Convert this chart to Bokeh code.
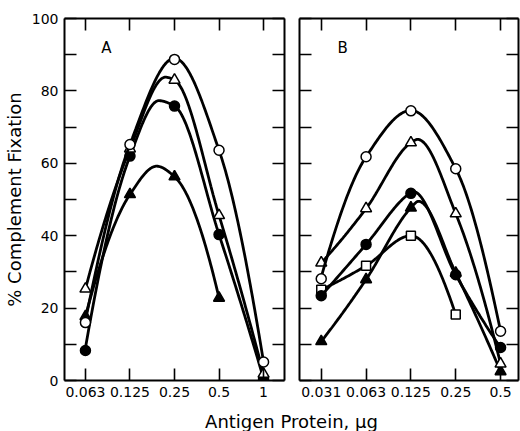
import numpy as np
from bokeh.plotting import figure
from bokeh.models import FixedTicker, LinearAxis, Label, Range1d
from bokeh.layouts import row, column
from bokeh.embed import file_html
from bokeh.resources import INLINE

# ---------------- data ----------------
# Panel A: antigen protein (µg) categories on a doubling scale
a_ticks = ["0.063", "0.125", "0.25", "0.5", "1"]
a_open_circle = [16.0, 65.2, 88.7, 63.6, 5.1]
a_open_triangle = [25.3, 64.0, 83.0, 45.6, 1.8]
a_filled_circle = [8.3, 62.0, 75.8, 40.3, 0.4]
a_filled_triangle = [17.7, 51.4, 56.3, 22.8]

# smooth curve knots for panel A (position index, % fixation)
a_oc_curve_x = [0, 1, 2, 3, 4]
a_oc_curve_y = [16.5, 65.2, 89.0, 63.6, 5.1]
a_ot_curve_x = [0, 1, 1.8, 2, 3, 4]
a_ot_curve_y = [25.3, 64.0, 83.8, 83.0, 45.6, 1.8]
a_fc_curve_x = [0, 1, 1.65, 2, 3, 4]
a_fc_curve_y = [9.0, 62.0, 77.3, 75.8, 40.3, 0.5]
a_ft_curve_x = [0, 1, 1.6, 2, 3]
a_ft_curve_y = [17.7, 51.4, 59.2, 56.3, 22.8]

# Panel B
b_ticks = ["0.031", "0.063", "0.125", "0.25", "0.5"]
b_open_circle = [28.1, 61.8, 74.5, 58.5, 13.6]
b_open_triangle = [32.5, 47.5, 65.7, 46.1, 4.6]
b_filled_circle = [23.4, 37.6, 51.7, 29.2, 9.1]
b_filled_triangle = [10.8, 27.9, 47.7, 29.7, 2.5]
b_open_square = [25.1, 31.7, 40.0, 18.2]

b_oc_curve_x = [0, 1, 2, 3, 4]
b_oc_curve_y = [28.6, 61.8, 74.6, 58.5, 13.6]
b_ot_curve_x = [0, 1, 2, 2.15, 3, 4]
b_ot_curve_y = [32.5, 47.5, 65.7, 66.6, 46.1, 4.6]
b_fc_curve_x = [0, 1, 2, 2.05, 3, 4]
b_fc_curve_y = [23.4, 37.6, 51.9, 52.2, 29.2, 9.1]
b_ft_curve_x = [0, 1, 2, 2.17, 3, 4]
b_ft_curve_y = [10.8, 27.9, 47.7, 49.5, 29.7, 2.5]
b_os_curve_x = [0, 1, 2, 3]
b_os_curve_y = [25.1, 31.7, 40.0, 18.2]

y_ticks = list(range(0, 101, 10))

FONT = "DejaVu Sans"


def pchip(xk, yk, n=160):
    """Monotone cubic rendering of a hand-drawn smooth curve through knots."""
    x = np.asarray(xk, float)
    y = np.asarray(yk, float)
    h = np.diff(x)
    d = np.diff(y) / h
    m = np.zeros_like(y)
    for k in range(1, len(x) - 1):
        if d[k - 1] * d[k] <= 0:
            m[k] = 0.0
        else:
            w1 = 2 * h[k] + h[k - 1]
            w2 = h[k] + 2 * h[k - 1]
            m[k] = (w1 + w2) / (w1 / d[k - 1] + w2 / d[k])

    def end(h0, h1, d0, d1):
        v = ((2 * h0 + h1) * d0 - h0 * d1) / (h0 + h1)
        if np.sign(v) != np.sign(d0):
            v = 0.0
        elif np.sign(d0) != np.sign(d1) and abs(v) > abs(3 * d0):
            v = 3 * d0
        return v

    if len(x) > 2:
        m[0] = end(h[0], h[1], d[0], d[1])
        m[-1] = end(h[-1], h[-2], d[-1], d[-2])
    else:
        m[0] = m[-1] = d[0]
    xs = np.linspace(x[0], x[-1], n)
    ys = np.empty_like(xs)
    for i, xv in enumerate(xs):
        k = min(np.searchsorted(x, xv, side="right") - 1, len(x) - 2)
        t = (xv - x[k]) / h[k]
        h00 = 2 * t**3 - 3 * t**2 + 1
        h10 = t**3 - 2 * t**2 + t
        h01 = -2 * t**3 + 3 * t**2
        h11 = t**3 - t**2
        ys[i] = h00 * y[k] + h10 * h[k] * m[k] + h01 * y[k + 1] + h11 * h[k] * m[k + 1]
    return xs, ys


def style_axis(ax, ticks, overrides=None, labels=True):
    ax.ticker = FixedTicker(ticks=ticks)
    ax.axis_line_width = 2
    ax.axis_line_color = "black"
    ax.major_tick_in = 12
    ax.major_tick_out = 0
    ax.minor_tick_in = 0
    ax.minor_tick_out = 0
    ax.major_tick_line_width = 1.6
    ax.major_tick_line_color = "black"
    if labels:
        ax.major_label_text_font = FONT
        ax.major_label_text_font_size = "14px"
        ax.major_label_text_color = "black"
        ax.major_label_standoff = 6
        if overrides:
            ax.major_label_overrides = overrides
    else:
        ax.major_label_text_font_size = "0px"
        ax.major_label_standoff = 0
        ax.major_label_overrides = {t: "" for t in ticks}


def make_panel(width, xr, tick_labels, left_labels, mbl, mbr, letter, letter_x):
    p = figure(width=width, height=402, x_range=Range1d(*xr), y_range=Range1d(0, 100),
               output_backend="svg", toolbar_location=None, title=None,
               min_border_left=mbl, min_border_right=mbr, min_border_top=18,
               min_border_bottom=22)
    p.grid.visible = False
    p.outline_line_color = None
    p.background_fill_color = "white"
    p.border_fill_color = "white"
    xt = list(range(len(tick_labels)))
    style_axis(p.xaxis[0], xt, {i: s for i, s in enumerate(tick_labels)})
    if left_labels:
        style_axis(p.yaxis[0], y_ticks, {t: (str(t) if t % 20 == 0 else "") for t in y_ticks})
        p.yaxis.axis_label = "% Complement Fixation"
        p.yaxis.axis_label_text_font = FONT
        p.yaxis.axis_label_text_font_size = "18px"
        p.yaxis.axis_label_text_font_style = "normal"
        p.yaxis.axis_label_text_color = "black"
        p.yaxis.axis_label_standoff = 4
    else:
        style_axis(p.yaxis[0], y_ticks, labels=False)
    top = LinearAxis()
    style_axis(top, xt, labels=False)
    p.add_layout(top, "above")
    right = LinearAxis()
    style_axis(right, y_ticks, labels=False)
    p.add_layout(right, "right")
    p.add_layout(Label(x=letter_x, y=91.8, text=letter, text_font=FONT,
                       text_font_size="15px", text_align="center",
                       text_baseline="middle", text_color="black"))
    return p


def draw(p, cx, cy, ys, marker, fill):
    lx, ly = pchip(cx, cy)
    p.line(lx, ly, line_color="black", line_width=2.8)
    size = {"circle": 10, "triangle": 11, "square": 9}[marker]
    p.scatter(list(range(len(ys))), ys, marker=marker, size=size,
              fill_color=fill, line_color="black", line_width=1.5)


pA = make_panel(291, (-0.47, 4.47), a_ticks, True, 63, 7, "A", 0.47)
draw(pA, a_ft_curve_x, a_ft_curve_y, a_filled_triangle, "triangle", "black")
draw(pA, a_fc_curve_x, a_fc_curve_y, a_filled_circle, "circle", "black")
draw(pA, a_ot_curve_x, a_ot_curve_y, a_open_triangle, "triangle", "white")
draw(pA, a_oc_curve_x, a_oc_curve_y, a_open_circle, "circle", "white")

pB = make_panel(229, (-0.485, 4.40), b_ticks, False, 8, 2, "B", 0.48)
draw(pB, b_os_curve_x, b_os_curve_y, b_open_square, "square", "white")
draw(pB, b_ft_curve_x, b_ft_curve_y, b_filled_triangle, "triangle", "black")
draw(pB, b_fc_curve_x, b_fc_curve_y, b_filled_circle, "circle", "black")
draw(pB, b_ot_curve_x, b_ot_curve_y, b_open_triangle, "triangle", "white")
draw(pB, b_oc_curve_x, b_oc_curve_y, b_open_circle, "circle", "white")

pX = figure(width=520, height=29, x_range=Range1d(0, 520), y_range=Range1d(0, 29),
            output_backend="svg", toolbar_location=None, title=None, min_border=0,
            x_axis_location=None, y_axis_location=None)
pX.grid.visible = False
pX.outline_line_color = None
pX.add_layout(Label(x=291, y=10, text="Antigen Protein, μg", text_font=FONT,
                    text_font_size="18px", text_align="center",
                    text_baseline="alphabetic", text_color="black"))

layout = column(row(pA, pB), pX)
open("out.html", "w").write(file_html(layout, INLINE))
